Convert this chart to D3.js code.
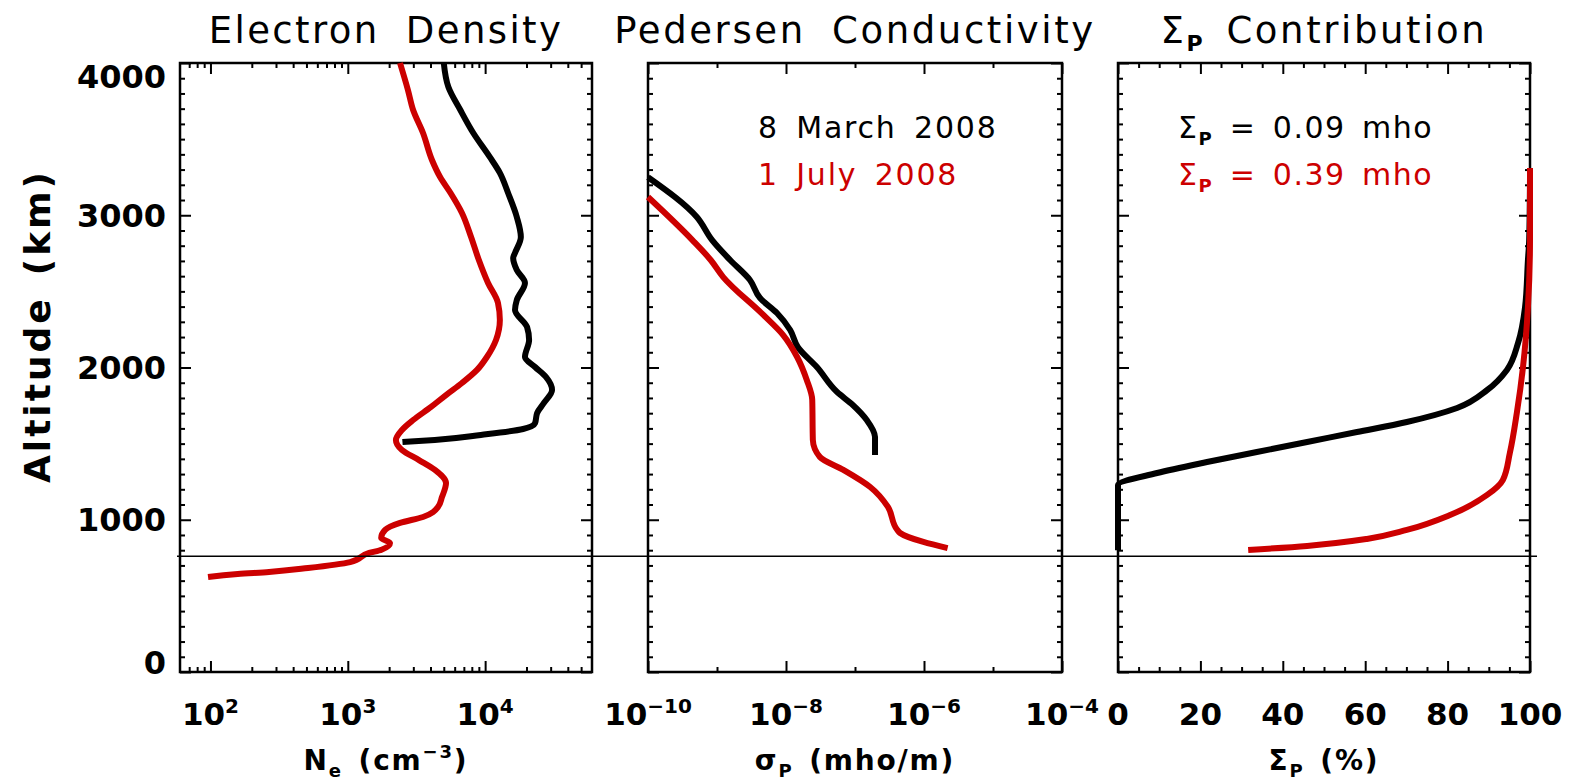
<!DOCTYPE html>
<html><head><meta charset="utf-8">
<script src="https://cdn.jsdelivr.net/npm/d3@7"></script>
<style>
body{margin:0;background:#fff}
svg{display:block}
text{font-family:"DejaVu Sans",sans-serif;fill:#000}
</style>
</head><body>
<svg id="c" width="1572" height="782"></svg>
<script>
// ---------- data ----------
// Panel 1: electron density (cm^-3) vs altitude (km)
const marchNeAlt = [4000,3842,3691,3540,3383,3278,3146,2989,2857,2752,2719,2640,2555,2443,2378,2266,2181,2069,2003,1938,1852,1767,1701,1635,1596,1557,1524,1511];
const marchNe    = [5000,5400,6600,8200,10800,12800,14700,17000,18200,16500,16000,17000,19500,17000,16500,20200,20900,19500,23100,27700,30700,26800,23900,23100,18900,9300,4300,2500];
const julyNeAlt  = [4000,3823,3691,3540,3363,3251,3146,3015,2857,2706,2555,2424,2312,2181,2069,1984,1898,1819,1741,1655,1590,1524,1458,1392,1327,1241,1149,1084,1018,979,933,880,847,803,782,722,683,657,644,624];
const julyNe     = [2400,2740,2990,3530,4100,4700,5600,6780,7900,9000,10500,12400,12800,12000,10300,8730,6780,5190,4040,2990,2480,2240,2480,3300,4310,5190,4850,4540,3530,2400,1870,1750,2030,1760,1430,1040,513,267,158,96];
// Panel 2: Pedersen conductivity (mho/m)
const marchSigAlt = [3250,2989,2837,2706,2575,2456,2358,2246,2135,2003,1839,1754,1655,1544,1425];
const marchSig    = [1e-10,5.1e-10,8.5e-10,1.55e-9,3.0e-9,4.2e-9,7.4e-9,1.15e-8,1.48e-8,2.8e-8,5.5e-8,9.3e-8,1.48e-7,1.95e-7,1.95e-7];
const julySigAlt  = [3120,2837,2706,2594,2345,2213,2069,1918,1787,1524,1412,1327,1215,1084,933,913,854,814];
const julySig     = [1e-10,4.4e-10,8.1e-10,1.23e-9,4.7e-9,9.1e-9,1.45e-8,2.0e-8,2.4e-8,2.45e-8,3.1e-8,6.8e-8,1.66e-7,3.0e-7,4.1e-7,4.5e-7,9.8e-7,2.2e-6];
// Panel 3: cumulative Sigma_P contribution (%)
const marchPctAlt = [3250,2837,2706,2397,2161,1984,1852,1734,1642,1576,1511,1445,1379,1307,1228,800];
const marchPct    = [100,99.8,99.5,98.8,97.1,94.4,89.6,82.3,70.1,58,45.9,33.7,21.6,9.5,0,0];
const julyPctAlt  = [3310,2837,2397,2003,1701,1438,1261,1163,1031,933,874,828,801];
const julyPct     = [100,100,99.5,98.3,96.8,95.1,93.4,89.6,80.6,70.1,60.4,45.9,31.6];
// Reference altitude line (km)
const refAltitude = 760;
// Text
const panelTitles = ["Electron Density","Pedersen Conductivity","Contribution"];
const legendDates = ["8 March 2008","1 July 2008"];
const legendSigma = ["0.09","0.39"];
const altTicks = [0,1000,2000,3000,4000];
const neTickExps = [2,3,4];
const sigTickExps = [-10,-8,-6,-4];
const pctTicks = [0,20,40,60,80,100];

// ---------- layout ----------
const RED = "#cc0000";
const yTop = 63, yBottom = 672;
const svg = d3.select("#c");
const y = d3.scaleLinear().domain([0,4000]).range([yBottom, yTop]);
const x1 = d3.scaleLog().domain([60,60000]).range([180,592]);
const x2 = d3.scaleLog().domain([1e-10,1e-4]).range([648,1062]);
const x3 = d3.scaleLinear().domain([0,100]).range([1118,1530]);

const yMinor = d3.range(0,4001,100).filter(v => v % 1000 !== 0);
const neMinor = [];
[10,100,1000,10000].forEach(d => { for (let k=2;k<=9;k++){ const v=k*d; if (v>60 && v<60000) neMinor.push(v);} });
const sigMinor = [1e-9,1e-7,1e-5];
const pctMinor = d3.range(0,101,5).filter(v => v % 20 !== 0);

function frame(x, xMaj, xMin) {
  const [l, r] = x.range();
  const g = svg.append("g");
  const ax = [
    [d3.axisBottom(x).tickValues(xMaj), `translate(0,${yBottom})`, 11],
    [d3.axisBottom(x).tickValues(xMin), `translate(0,${yBottom})`, 5],
    [d3.axisTop(x).tickValues(xMaj), `translate(0,${yTop})`, 11],
    [d3.axisTop(x).tickValues(xMin), `translate(0,${yTop})`, 5],
    [d3.axisLeft(y).tickValues(altTicks), `translate(${l},0)`, 11],
    [d3.axisLeft(y).tickValues(yMinor), `translate(${l},0)`, 5],
    [d3.axisRight(y).tickValues(altTicks), `translate(${r},0)`, 11],
    [d3.axisRight(y).tickValues(yMinor), `translate(${r},0)`, 5]
  ];
  ax.forEach(([a, tr, s]) => {
    const gg = g.append("g").attr("transform", tr).call(a.tickSize(-s).tickFormat(""));
    gg.select(".domain").remove();
    gg.selectAll("line").attr("stroke","#000").attr("stroke-width",2);
  });
  g.append("rect").attr("x",l).attr("y",yTop).attr("width",r-l).attr("height",yBottom-yTop)
    .attr("fill","none").attr("stroke","#000").attr("stroke-width",2.5);
}
frame(x1, neTickExps.map(e => Math.pow(10,e)), neMinor);
frame(x2, sigTickExps.map(e => Math.pow(10,e)), sigMinor);
frame(x3, pctTicks, pctMinor);

// ---------- curves ----------
function curve(x, vals, alts, color) {
  const pts = vals.map((v,i) => [x(v), y(alts[i])]);
  svg.append("path").attr("d", d3.line().curve(d3.curveMonotoneY)(pts))
    .attr("fill","none").attr("stroke",color).attr("stroke-width",6)
    .attr("stroke-linejoin","round").attr("stroke-linecap","butt");
}
curve(x1, marchNe, marchNeAlt, "#000");
curve(x1, julyNe, julyNeAlt, RED);
curve(x2, marchSig, marchSigAlt, "#000");
curve(x2, julySig, julySigAlt, RED);
curve(x3, marchPct, marchPctAlt, "#000");
curve(x3, julyPct, julyPctAlt, RED);

// reference altitude line
svg.append("line").attr("x1", x1.range()[0]-3).attr("x2", x3.range()[1]+7)
  .attr("y1", y(refAltitude)).attr("y2", y(refAltitude))
  .attr("stroke","#000").attr("stroke-width",1.6);

// ---------- tick labels ----------
const yLabOffset = {0:-10, 4000:13};
altTicks.forEach(v => {
  svg.append("text").attr("x",166).attr("y", y(v) + (yLabOffset[v]||0) + 11.5)
    .attr("text-anchor","end").attr("font-size",32).attr("font-weight","bold").text(v);
});
function powLabel(xpos, exp) {
  const t = svg.append("text").attr("x", xpos).attr("y", 725).attr("text-anchor","middle")
    .attr("font-size",31).attr("font-weight","bold");
  t.append("tspan").text("10");
  t.append("tspan").attr("dy",-12).attr("font-size",20).text(String(exp).replace("-","\u2212"));
}
neTickExps.forEach(e => powLabel(x1(Math.pow(10,e)), e));
sigTickExps.forEach(e => powLabel(x2(Math.pow(10,e)), e));
pctTicks.forEach(v => {
  svg.append("text").attr("x", x3(v)).attr("y",725).attr("text-anchor","middle")
    .attr("font-size",31).attr("font-weight","bold").text(v);
});

// ---------- axis titles ----------
function mid(x){ const r=x.range(); return (r[0]+r[1])/2; }
let t = svg.append("text").attr("x", mid(x1)).attr("y",770).attr("text-anchor","middle")
  .attr("font-size",28).attr("font-weight","bold").attr("letter-spacing",1.8);
t.append("tspan").text("N");
t.append("tspan").attr("dy",7).attr("font-size",18).text("e");
t.append("tspan").attr("dy",-7).text("\u2002(cm");
t.append("tspan").attr("dy",-12).attr("font-size",18).text("\u22123");
t.append("tspan").attr("dy",12).text(")");

t = svg.append("text").attr("x", mid(x2)).attr("y",770).attr("text-anchor","middle")
  .attr("font-size",28).attr("font-weight","bold").attr("letter-spacing",1.8);
t.append("tspan").text("\u03c3");
t.append("tspan").attr("dy",7).attr("font-size",18).text("P");
t.append("tspan").attr("dy",-7).text("\u2002(mho/m)");

t = svg.append("text").attr("x", mid(x3)).attr("y",770).attr("text-anchor","middle")
  .attr("font-size",28).attr("font-weight","bold").attr("letter-spacing",1.8);
t.append("tspan").text("\u03a3");
t.append("tspan").attr("dy",7).attr("font-size",18).text("P");
t.append("tspan").attr("dy",-7).text("\u2002(%)");

svg.append("text").attr("transform","translate(50,326) rotate(-90)").attr("text-anchor","middle")
  .attr("font-size",36).attr("font-weight","bold").attr("letter-spacing",3)
  .text("Altitude\u2002(km)");

// ---------- panel titles ----------
svg.append("text").attr("x", mid(x1)).attr("y",43).attr("text-anchor","middle")
  .attr("font-size",37).attr("letter-spacing",2.4).attr("word-spacing",12).text(panelTitles[0]);
svg.append("text").attr("x", mid(x2)).attr("y",43).attr("text-anchor","middle")
  .attr("font-size",37).attr("letter-spacing",2.6).attr("word-spacing",12).text(panelTitles[1]);
t = svg.append("text").attr("x", mid(x3)).attr("y",43).attr("text-anchor","middle")
  .attr("font-size",37).attr("letter-spacing",2.6);
t.append("tspan").text("\u03a3");
t.append("tspan").attr("dy",8).attr("font-size",22).attr("font-weight","bold").text("P");
t.append("tspan").attr("dy",-8).text("\u2002" + panelTitles[2]);

// ---------- legends ----------
legendDates.forEach((d,i) => {
  svg.append("text").attr("x",758).attr("y",138 + 47*i).attr("font-size",30)
    .attr("letter-spacing",1.8).attr("word-spacing",6)
    .style("fill", i ? RED : "#000").text(d);
});
legendSigma.forEach((s,i) => {
  const tt = svg.append("text").attr("x",1178).attr("y",138 + 47*i).attr("font-size",30)
    .attr("letter-spacing",1.5).style("fill", i ? RED : "#000");
  tt.append("tspan").text("\u03a3");
  tt.append("tspan").attr("dy",7).attr("font-size",18).attr("font-weight","bold").text("P");
  tt.append("tspan").attr("dy",-7).text("\u2002=\u2002" + s + "\u2002mho");
});
</script>
</body></html>
